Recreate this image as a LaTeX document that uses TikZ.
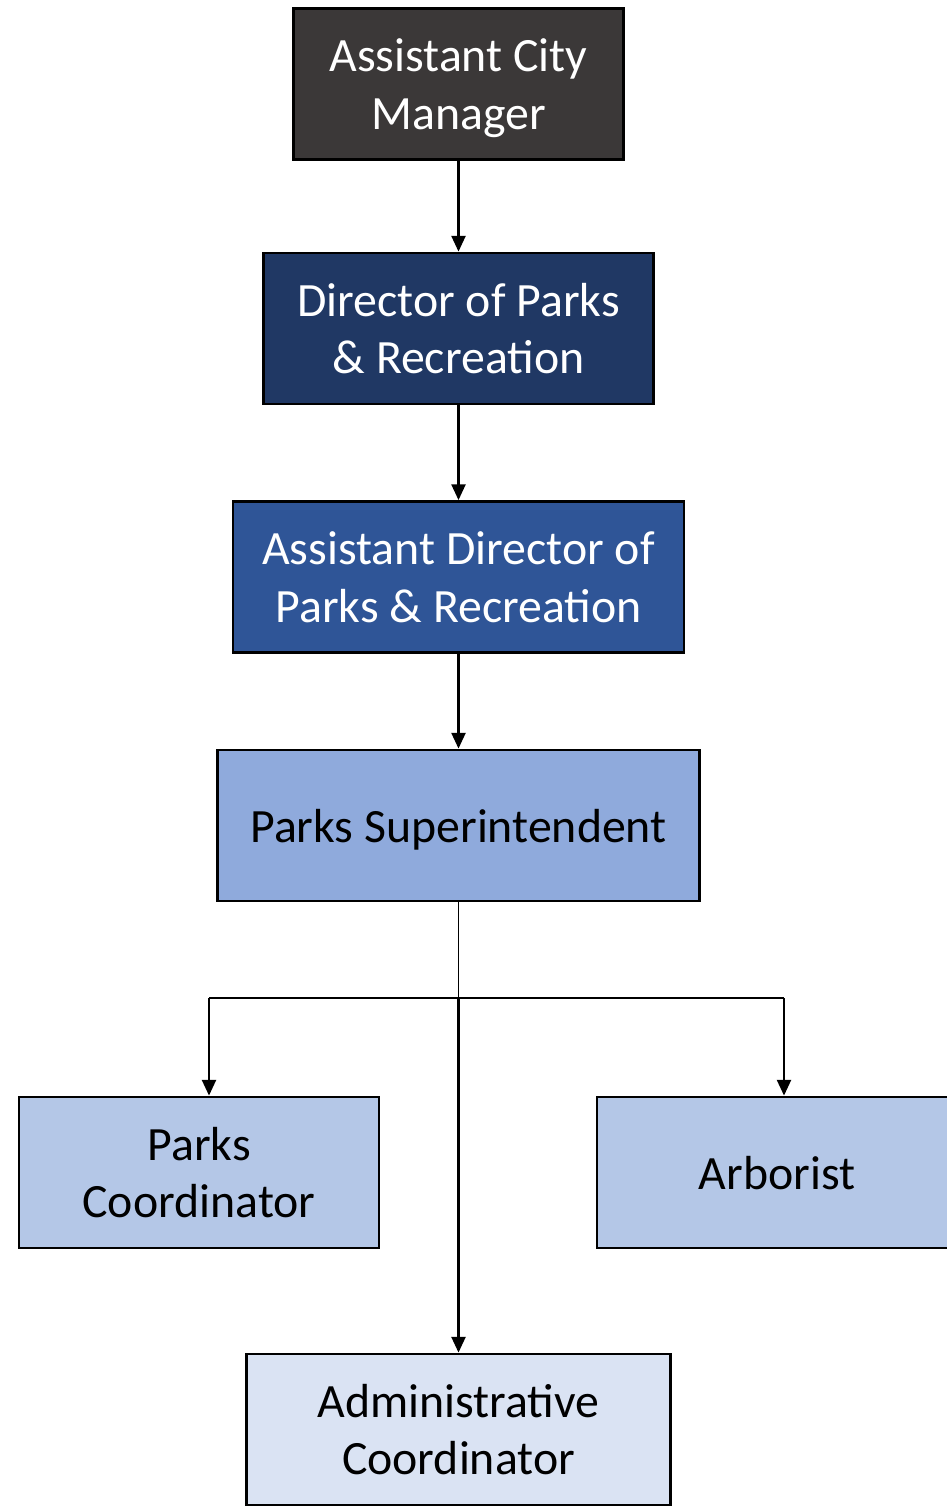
\documentclass[tikz,border=0pt]{standalone}
\usepackage{fontspec}
\setmainfont{Carlito}
\usetikzlibrary{arrows.meta}
\definecolor{acmgray}{HTML}{3B3838}
\definecolor{dirblue}{HTML}{203864}
\definecolor{asstblue}{HTML}{2F5597}
\definecolor{supblue}{HTML}{8FAADC}
\definecolor{staffblue}{HTML}{B4C7E7}
\definecolor{adminblue}{HTML}{DAE3F3}

\begin{document}
\begin{tikzpicture}
\useasboundingbox (0,0) rectangle (18.94,-30.22);
\tikzstyle{box}=[draw=black,line width=1.6pt,minimum height=3.02cm,align=center,inner sep=0pt,text depth=0pt,font=\fontsize{27.2}{32.5}\selectfont];
\tikzstyle{link}=[line width=1.3pt,-{Triangle[length=9pt,width=8pt]}];
\node[box,fill=acmgray,text=white,minimum width=6.6cm] (A)at(9.17,-1.68) {Assistant City\\Manager};
\node[box,fill=dirblue,text=white,minimum width=7.8cm] (B)at(9.17,-6.57) {Director of Parks\\\& Recreation};
\node[box,fill=asstblue,text=white,minimum width=9.02cm] (C)at(9.17,-11.54) {Assistant Director of\\Parks \& Recreation};
\node[box,fill=supblue,minimum width=9.64cm] (D)at(9.17,-16.51) {Parks Superintendent};
\node[box,fill=staffblue,minimum width=7.2cm] (E)at(3.98,-23.45) {Parks\\Coordinator};
\node[box,fill=staffblue,minimum width=7.2cm] (F)at(15.54,-23.45) {Arborist};
\node[box,fill=adminblue,minimum width=8.48cm] (G)at(9.17,-28.59) {Administrative\\Coordinator};
\coordinate (L)at(4.18,-19.96);
\coordinate (R)at(15.68,-19.96);
\coordinate (M)at(9.17,-19.96);
\draw[link](A)--(B);
\draw[link](B)--(C);
\draw[link](C)--(D);
\draw[line width=0.9pt](D)--(M);
\draw[line width=0.9pt](L)--(R);
\draw[link](L)--(L|-E.north);
\draw[link](R)--(R|-F.north);
\draw[link](M)--(G);
\end{tikzpicture}
\end{document}
